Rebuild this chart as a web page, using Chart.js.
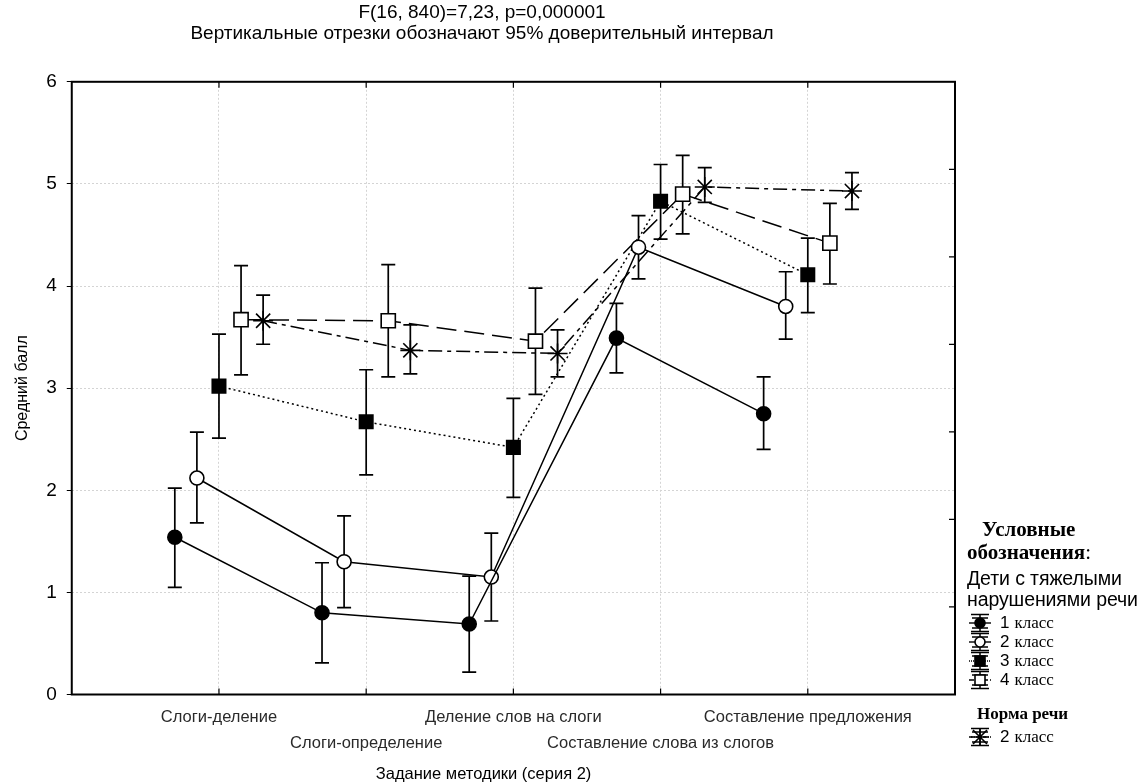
<!DOCTYPE html>
<html>
<head>
<meta charset="utf-8">
<script src="https://cdn.jsdelivr.net/npm/chart.js@4.4.1/dist/chart.umd.min.js"></script>
<style>
  html, body { margin: 0; padding: 0; background: #fff; }
  #wrap { position: relative; width: 1141px; height: 783px; }
  #legend { position: absolute; left: 967px; top: 518px; width: 174px; color: #000; }
  #legend .hd { font-family: "Liberation Serif", "Times New Roman", serif; font-weight: bold; font-size: 21px; line-height: 23px; white-space: nowrap; }
  #legend .sub { font-family: "Liberation Sans", Arial, sans-serif; font-size: 19.5px; line-height: 21px; white-space: nowrap; letter-spacing: -0.1px; }
  #legend .row { height: 19px; display: flex; align-items: center; white-space: nowrap; }
  #legend .row svg { margin-left: 2px; margin-right: 9px; }
  #legend .num { font-family: "Liberation Sans", Arial, sans-serif; font-size: 17px; margin-right: 5px; }
  #legend .kl { font-family: "Liberation Serif", "Times New Roman", serif; font-size: 17px; }
</style>
</head>
<body>
<div id="wrap">
  <canvas id="grafico" width="1141" height="783"></canvas>
  <div id="legend">
    <div class="hd" style="padding-left:15px">Условные</div>
    <div class="hd">обозначения<span style="font-weight:normal">:</span></div>
    <div class="sub" style="margin-top:4px">Дети с тяжелыми</div>
    <div class="sub">нарушениями речи</div>
    <div id="legend-main" style="margin-top:3px"></div>
    <div class="hd" style="font-size:17px; padding-left:10px; margin-top:13px">Норма речи</div>
    <div id="legend-norma" style="margin-top:2px"></div>
  </div>
</div>
<script>
// Данные (средний балл и 95% доверительный интервал)
const categorias = ["Слоги-деление", "Слоги-определение", "Деление слов на слоги", "Составление слова из слогов", "Составление предложения"];

const clase1Media = [1.54, 0.80, 0.69, 3.49, 2.75];
const clase1Min   = [1.05, 0.31, 0.22, 3.15, 2.40];
const clase1Max   = [2.02, 1.29, 1.16, 3.83, 3.11];

const clase2Media = [2.12, 1.30, 1.15, 4.38, 3.80];
const clase2Min   = [1.68, 0.85, 0.72, 4.07, 3.48];
const clase2Max   = [2.57, 1.75, 1.58, 4.69, 4.14];

const clase3Media = [3.02, 2.67, 2.42, 4.83, 4.11];
const clase3Min   = [2.51, 2.15, 1.93, 4.46, 3.74];
const clase3Max   = [3.53, 3.18, 2.90, 5.19, 4.47];

const clase4Media = [3.67, 3.66, 3.46, 4.90, 4.42];
const clase4Min   = [3.13, 3.11, 2.94, 4.51, 4.02];
const clase4Max   = [4.20, 4.21, 3.98, 5.28, 4.81];

const normaMedia = [3.66, 3.37, 3.34, 4.97, 4.93];
const normaMin   = [3.43, 3.14, 3.11, 4.82, 4.75];
const normaMax   = [3.91, 3.62, 3.57, 5.16, 5.11];

const yTicks = [0, 1, 2, 3, 4, 5, 6];

// desplazamiento horizontal de cada serie dentro del grupo
const desplazamientos = [-0.3, -0.15, 0, 0.15, 0.3];

function puntos(medias, idx) {
    return medias.map((v, i) => ({ x: i + 1 + desplazamientos[idx], y: v }));
}

function serie(label, medias, mins, maxs, idx, estilo) {
    return Object.assign({
        label: label,
        data: puntos(medias, idx),
        errMin: mins,
        errMax: maxs,
        borderColor: "#000",
        borderWidth: 1.5,
        pointBorderColor: "#000",
        pointBorderWidth: 1.6,
        pointHoverRadius: 0,
        tension: 0,
        fill: false
    }, estilo);
}

const datasets = [
    serie("1 класс", clase1Media, clase1Min, clase1Max, 0, { pointStyle: "circle", pointRadius: 7, pointBackgroundColor: "#000" }),
    serie("2 класс", clase2Media, clase2Min, clase2Max, 1, { pointStyle: "circle", pointRadius: 7, pointBackgroundColor: "#fff" }),
    serie("3 класс", clase3Media, clase3Min, clase3Max, 2, { pointStyle: "rect", pointRadius: 9.5, pointBackgroundColor: "#000", borderDash: [2, 3] }),
    serie("4 класс", clase4Media, clase4Min, clase4Max, 3, { pointStyle: "rect", pointRadius: 10, pointBackgroundColor: "#fff", borderDash: [20, 8] }),
    serie("Норма речи 2 класс", normaMedia, normaMin, normaMax, 4, { pointStyle: "star", pointRadius: 10, pointBackgroundColor: "#000", borderDash: [14, 5, 4, 5] })
];

// Intervalos de confianza (segmentos verticales)
const barrasError = {
    id: "barrasError",
    beforeDatasetsDraw(chart) {
        const ctx = chart.ctx;
        const x = chart.scales.x, y = chart.scales.y;
        ctx.save();
        ctx.strokeStyle = "#000";
        ctx.lineWidth = 1.7;
        ctx.setLineDash([]);
        chart.data.datasets.forEach(ds => {
            ds.data.forEach((p, i) => {
                const px = x.getPixelForValue(p.x);
                const y1 = y.getPixelForValue(ds.errMin[i]);
                const y2 = y.getPixelForValue(ds.errMax[i]);
                ctx.beginPath();
                ctx.moveTo(px, y1); ctx.lineTo(px, y2);
                ctx.moveTo(px - 7, y1); ctx.lineTo(px + 7, y1);
                ctx.moveTo(px - 7, y2); ctx.lineTo(px + 7, y2);
                ctx.stroke();
            });
        });
        ctx.restore();
    }
};

// Marco y marcas interiores
const marco = {
    id: "marco",
    afterDraw(chart) {
        const ctx = chart.ctx;
        const a = chart.chartArea;
        const x = chart.scales.x, y2 = chart.scales.y2;
        ctx.save();
        ctx.strokeStyle = "#000";
        ctx.lineWidth = 2;
        ctx.setLineDash([]);
        ctx.strokeRect(a.left, a.top, a.right - a.left, a.bottom - a.top);
        ctx.lineWidth = 1.2;
        ctx.beginPath();
        x.ticks.forEach(t => {
            const px = x.getPixelForValue(t.value);
            ctx.moveTo(px, a.top); ctx.lineTo(px, a.top + 6);
            ctx.moveTo(px, a.bottom); ctx.lineTo(px, a.bottom - 6);
        });
        for (let v = 1; v < 7; v++) {
            const py = y2.getPixelForValue(v);
            ctx.moveTo(a.right, py); ctx.lineTo(a.right - 6, py);
        }
        ctx.stroke();
        ctx.restore();
    }
};

const ctx = document.getElementById("grafico").getContext("2d");
const grafico = new Chart(ctx, {
    type: "line",
    data: { datasets: datasets },
    options: {
        responsive: false,
        animation: false,
        events: [],
        layout: { padding: { left: 9, right: 186, top: 0, bottom: 0 } },
        plugins: {
            legend: { display: false },
            tooltip: { enabled: false },
            title: {
                display: true,
                text: "F(16, 840)=7,23, p=0,000001",
                color: "#000",
                font: { family: "Liberation Sans, Arial, sans-serif", size: 19, weight: "normal", lineHeight: 1.1 },
                padding: { top: 2, bottom: 0 }
            },
            subtitle: {
                display: true,
                text: "Вертикальные отрезки обозначают 95% доверительный интервал",
                color: "#000",
                font: { family: "Liberation Sans, Arial, sans-serif", size: 19, lineHeight: 1.1 },
                padding: { top: 0, bottom: 38 }
            }
        },
        scales: {
            x: {
                type: "linear",
                min: 0,
                max: 6,
                afterBuildTicks: scale => { scale.ticks = categorias.map((c, i) => ({ value: i + 1 })); },
                grid: { color: "#d4d4d4", lineWidth: 1, drawTicks: false },
                border: { display: false, dash: [2, 2] },
                ticks: {
                    autoSkip: false,
                    maxRotation: 0,
                    padding: 10,
                    color: "#2a2a2a",
                    font: { family: "Liberation Sans, Arial, sans-serif", size: 16.5, lineHeight: 26 / 16.5 },
                    callback: value => {
                        const i = Math.round(value) - 1;
                        return i % 2 === 0 ? [categorias[i]] : ["", categorias[i]];
                    }
                },
                title: {
                    display: true,
                    text: "Задание методики (серия 2)\u00a0\u00a0\u00a0\u00a0\u00a0\u00a0\u00a0\u00a0\u00a0\u00a0\u00a0\u00a0\u00a0",
                    color: "#000",
                    font: { family: "Liberation Sans, Arial, sans-serif", size: 16.5, lineHeight: 1 },
                    padding: { top: 0, bottom: 0 }
                }
            },
            y: {
                min: 0,
                max: 6,
                afterBuildTicks: scale => { scale.ticks = yTicks.map(v => ({ value: v })); },
                grid: { color: "#d4d4d4", lineWidth: 1, tickColor: "#000", tickLength: 5 },
                border: { display: false, dash: [2, 2] },
                ticks: {
                    padding: 10,
                    color: "#000",
                    font: { family: "Liberation Sans, Arial, sans-serif", size: 19 }
                },
                title: {
                    display: true,
                    text: "Средний балл",
                    color: "#000",
                    font: { family: "Liberation Sans, Arial, sans-serif", size: 16 },
                    padding: { top: 4, bottom: 4 }
                }
            },
            y2: {
                display: false,
                position: "right",
                min: 0,
                max: 7
            }
        }
    },
    plugins: [barrasError, marco]
});

// Leyenda (iconos)
function icono(ds) {
    const dash = ds.borderDash ? ds.borderDash.map(d => Math.max(1, d / 4)).join(",") : "none";
    let marca = "";
    if (ds.pointStyle === "circle") {
        marca = `<circle cx="11" cy="10" r="5" fill="${ds.pointBackgroundColor}" stroke="#000" stroke-width="1.6"/>`;
    } else if (ds.pointStyle === "rect") {
        marca = `<rect x="6" y="5" width="10" height="10" fill="${ds.pointBackgroundColor}" stroke="#000" stroke-width="1.6"/>`;
    } else {
        marca = `<path d="M2 10H20M11 1V19M4 3L18 17M18 3L4 17" stroke="#000" stroke-width="1.6"/>`;
    }
    return `<svg width="22" height="20" viewBox="0 0 22 20">
        <path d="M0 10H22" stroke="#000" stroke-width="1.4" stroke-dasharray="${dash}"/>
        <path d="M11 1V19M2 1.5H20M2 18.5H20M3 5H19M3 15H19" stroke="#000" stroke-width="1.5"/>
        ${marca}
    </svg>`;
}

function filaLeyenda(ds, numero) {
    return `<div class="row">${icono(ds)}<span class="num">${numero}</span><span class="kl">класс</span></div>`;
}

document.getElementById("legend-main").innerHTML =
    datasets.slice(0, 4).map((ds, i) => filaLeyenda(ds, i + 1)).join("");
document.getElementById("legend-norma").innerHTML = filaLeyenda(datasets[4], 2);
</script>
</body>
</html>
